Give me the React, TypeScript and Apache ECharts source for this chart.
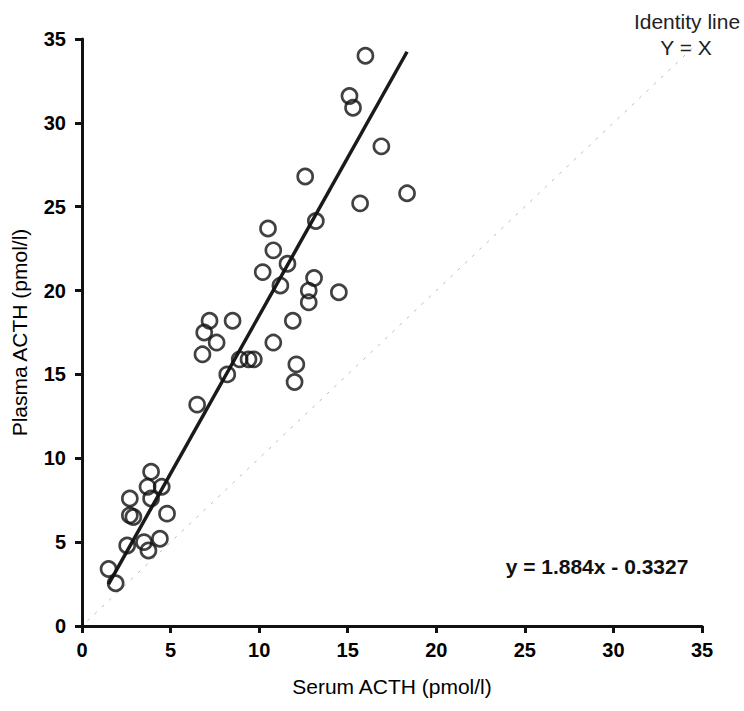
import React, { useEffect, useRef } from "react";
import * as echarts from "echarts";

// Serum ACTH (x) and Plasma ACTH (y), pmol/l
const serumACTH = [
  1.5, 1.9, 2.55, 2.7, 2.7, 2.9, 3.5, 3.75, 3.7, 3.9, 3.9, 4.4, 4.5, 4.8,
  6.5, 6.8, 6.9, 7.2, 7.6, 8.2, 8.5, 8.9, 9.4, 9.7, 10.2, 10.5, 10.8, 10.8,
  11.2, 11.6, 11.9, 12.0, 12.1, 12.6, 12.8, 12.8, 13.1, 13.2, 14.5, 15.1,
  15.3, 15.7, 16.0, 16.9, 18.35,
];
const plasmaACTH = [
  3.4, 2.55, 4.8, 7.6, 6.6, 6.5, 5.0, 4.5, 8.3, 9.2, 7.6, 5.2, 8.3, 6.7,
  13.2, 16.2, 17.5, 18.2, 16.9, 15.0, 18.2, 15.9, 15.9, 15.9, 21.1, 23.7, 22.4, 16.9,
  20.3, 21.6, 18.2, 14.55, 15.6, 26.8, 20.0, 19.3, 20.75, 24.15, 19.9, 31.6,
  30.9, 25.2, 34.0, 28.6, 25.8,
];

const axisMin = 0;
const axisMax = 35;
const axisStep = 5;

const slope = 1.884;
const intercept = -0.3327;
const identityRange = [0.3, 34.5];

const equationText = "y = 1.884x - 0.3327";
const identityTitle = "Identity line";
const identityFormula = "Y = X";
const xName = "Serum ACTH (pmol/l)";
const yName = "Plasma ACTH (pmol/l)";

const FONT = "Liberation Sans, Arial, Helvetica, sans-serif";

export default function App() {
  const ref = useRef<HTMLDivElement>(null);

  useEffect(() => {
    const chart = echarts.init(ref.current!, null, { renderer: "svg" });
    const points = serumACTH.map((x, i) => [x, plasmaACTH[i]]);
    const xMin = Math.min(...serumACTH);
    const xMax = Math.max(...serumACTH);
    const fit = [
      [xMin, slope * xMin + intercept],
      [xMax, slope * xMax + intercept],
    ];
    const identity = identityRange.map((v) => [v, v]);

    const axisCommon = {
      type: "value",
      min: axisMin,
      max: axisMax,
      interval: axisStep,
      splitLine: { show: false },
      axisLine: { show: true, onZero: false, lineStyle: { color: "#111", width: 3 } },
      axisTick: { show: true, inside: false, length: 7, lineStyle: { color: "#111", width: 3 } },
      nameLocation: "middle",
      nameTextStyle: { fontFamily: FONT, fontSize: 21, color: "#000" },
    };

    chart.setOption({
      animation: false,
      backgroundColor: "#fff",
      grid: { left: 82, right: 42, top: 39, bottom: 85 },
      xAxis: {
        ...axisCommon,
        name: xName,
        nameGap: 50,
        axisLabel: { fontFamily: FONT, fontSize: 20, fontWeight: "bold", color: "#000", margin: 14 },
      },
      yAxis: {
        ...axisCommon,
        name: yName,
        nameGap: 52,
        nameRotate: 90,
        axisLabel: { fontFamily: FONT, fontSize: 20, fontWeight: "bold", color: "#000", margin: 16 },
      },
      series: [
        {
          type: "line",
          data: identity,
          showSymbol: false,
          symbol: "none",
          silent: true,
          lineStyle: { color: "#bbbbbb", width: 1, type: [3, 7] },
          z: 1,
        },
        {
          type: "line",
          data: fit,
          showSymbol: false,
          symbol: "none",
          silent: true,
          lineStyle: { color: "#1a1a1a", width: 3.5 },
          z: 2,
        },
        {
          type: "scatter",
          data: points,
          symbol: "circle",
          symbolSize: 15,
          itemStyle: { color: "rgba(0,0,0,0)", borderColor: "#111", borderWidth: 2.7 },
          z: 3,
        },
      ],
      graphic: [
        {
          type: "text",
          x: 687,
          y: 21,
          style: {
            text: identityTitle,
            fontFamily: FONT,
            fontSize: 21,
            fill: "#222",
            align: "center",
            verticalAlign: "middle",
          },
        },
        {
          type: "text",
          x: 686,
          y: 47,
          style: {
            text: identityFormula,
            fontFamily: FONT,
            fontSize: 21,
            fill: "#222",
            align: "center",
            verticalAlign: "middle",
          },
        },
        {
          type: "text",
          x: 597,
          y: 566,
          style: {
            text: equationText,
            fontFamily: FONT,
            fontSize: 21,
            fontWeight: "bold",
            fill: "#111",
            align: "center",
            verticalAlign: "middle",
          },
        },
      ],
    });

    return () => chart.dispose();
  }, []);

  return (
    <div
      ref={ref}
      style={{ position: "absolute", left: 0, top: 0, width: 744, height: 711, background: "#fff" }}
    />
  );
}
